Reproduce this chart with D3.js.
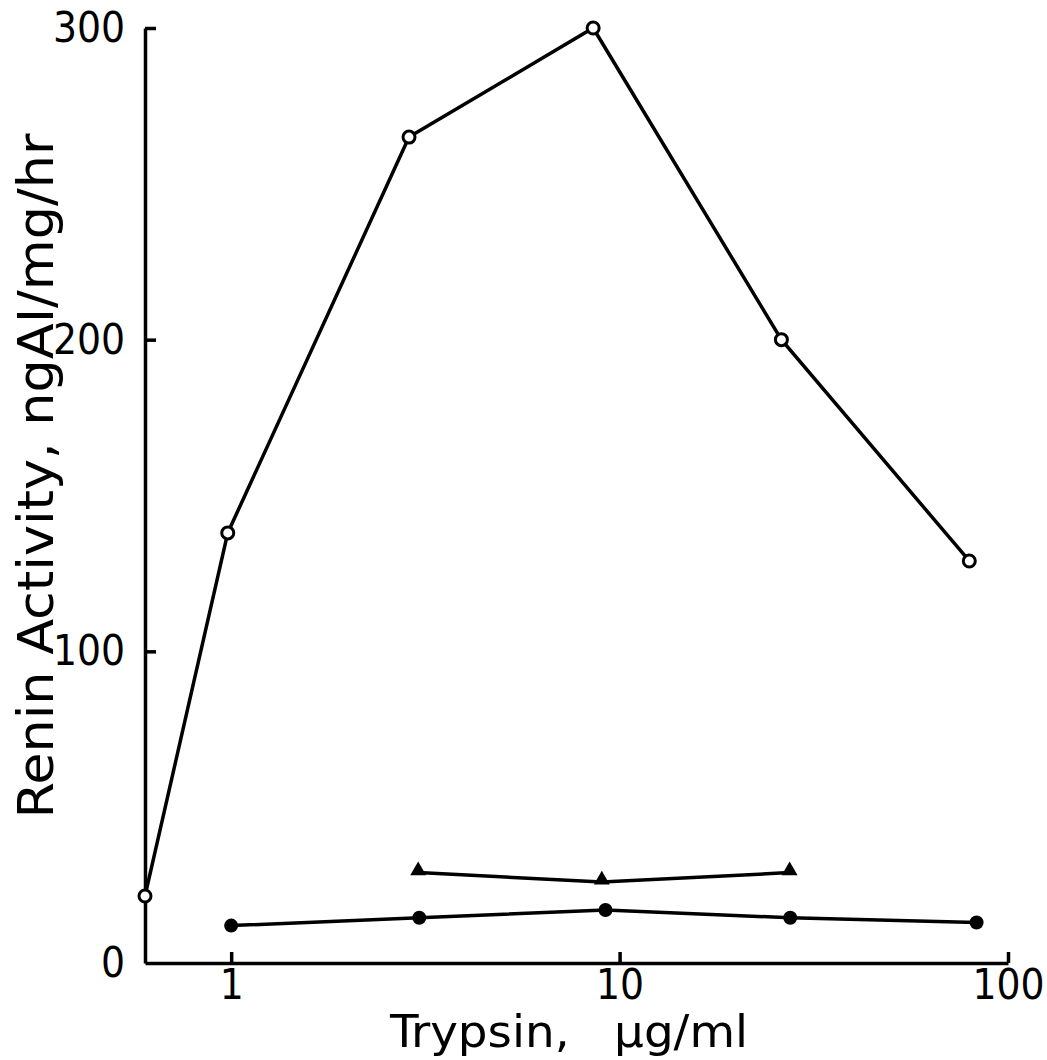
<!DOCTYPE html>
<html>
<head>
<meta charset="utf-8">
<script src="https://cdn.jsdelivr.net/npm/d3@7"></script>
<style>
  body { margin: 0; background: #fff; }
  svg text { font-family: "DejaVu Sans Condensed", "DejaVu Sans", sans-serif; font-stretch: condensed; fill: #000; }
</style>
</head>
<body>
<div class="chart"></div>
<script>
// trypsin dose (µg/ml), first point sits on the y axis (no trypsin)
const openX = [0.6, 0.98, 2.87, 8.55, 26.1, 79.5];
const openY = [21.5, 138, 265, 300, 200, 129];

const dotX = [1.0, 3.05, 9.2, 27.5, 83];
const dotY = [12, 14.5, 17, 14.5, 13];

const triX = [3.03, 9.0, 27.4];
const triY = [29, 26, 29];

const xTicks = [1, 10, 100];
const yTicks = [0, 100, 200, 300];

const width = 1047, height = 1060;

const svg = d3.select('.chart')
  .append('svg')
  .attr('width', width)
  .attr('height', height);

const x = d3.scaleLog().domain([0.6, 100]).range([145, 1008]);
const y = d3.scaleLinear().domain([0, 300]).range([963, 28]);

// axes - ticks point into the plot
svg.append('g')
  .attr('transform', `translate(0,${y(0)})`)
  .call(d3.axisBottom(x).tickValues(xTicks).tickFormat(d3.format('d'))
    .tickSizeInner(-11).tickSizeOuter(0).tickPadding(6))
  .call(g => g.selectAll('.tick text').style('font-size', '42px'));

svg.append('g')
  .attr('transform', `translate(${x(0.6)},0)`)
  .call(d3.axisLeft(y).tickValues(yTicks)
    .tickSizeInner(-11).tickSizeOuter(0).tickPadding(20))
  .call(g => g.selectAll('.tick line').filter(d => d === 0).remove())
  .call(g => g.selectAll('.tick text').style('font-size', '42px'));

svg.selectAll('.domain').attr('stroke', '#000').attr('stroke-width', 3.5);
svg.selectAll('.tick line').attr('stroke', '#000').attr('stroke-width', 3.5);
svg.selectAll('.tick text').attr('fill', '#000');

const line = d3.line().x(d => x(d[0])).y(d => y(d[1]));

function series(xs, ys) {
  return xs.map((v, i) => [v, ys[i]]);
}

const openData = series(openX, openY);
const dotData = series(dotX, dotY);
const triData = series(triX, triY);

[openData, dotData, triData].forEach(data => {
  svg.append('path')
    .datum(data)
    .attr('d', line)
    .attr('fill', 'none')
    .attr('stroke', '#000')
    .attr('stroke-width', 3.5);
});

svg.selectAll('.open')
  .data(openData)
  .enter().append('circle')
  .attr('cx', d => x(d[0]))
  .attr('cy', d => y(d[1]))
  .attr('r', 6)
  .attr('fill', '#fff')
  .attr('stroke', '#000')
  .attr('stroke-width', 3);

svg.selectAll('.dot')
  .data(dotData)
  .enter().append('circle')
  .attr('cx', d => x(d[0]))
  .attr('cy', d => y(d[1]))
  .attr('r', 7)
  .attr('fill', '#000');

svg.selectAll('.tri')
  .data(triData)
  .enter().append('path')
  .attr('d', d3.symbol().type(d3.symbolTriangle).size(110))
  .attr('transform', d => `translate(${x(d[0])},${y(d[1]) - 2})`)
  .attr('fill', '#000');

// axis titles
svg.append('text')
  .attr('transform', 'translate(53,476) rotate(-90)')
  .attr('text-anchor', 'middle')
  .attr('textLength', 685)
  .attr('lengthAdjust', 'spacingAndGlyphs')
  .style('font-size', '50px')
  .text('Renin Activity, ngAI/mg/hr');

svg.append('text')
  .attr('x', 569)
  .attr('y', 1047)
  .attr('text-anchor', 'middle')
  .attr('textLength', 358)
  .attr('lengthAdjust', 'spacingAndGlyphs')
  .style('font-size', '45px')
  .style('white-space', 'pre')
  .text('Trypsin,   µg/ml');
</script>
</body>
</html>
